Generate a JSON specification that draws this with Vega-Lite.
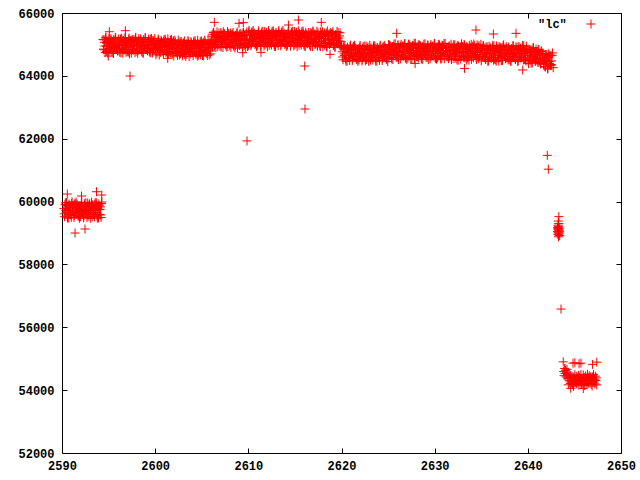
{
"$schema": "https://vega.github.io/schema/vega-lite/v6.json",
"width": 559, "height": 440,
"autosize": {"type": "none"},
"padding": {"left": 62, "top": 13, "right": 19, "bottom": 27},
"background": "white",
"config": {"view": {"stroke": "#000000", "strokeWidth": 1}, "font": "Liberation Mono"},
"layer": [
{
"data": {"values": [
{"t":2590.20,"v":59775},{"t":2590.28,"v":59520},{"t":2590.36,"v":59960},{"t":2590.44,"v":59660},{"t":2590.52,"v":59880},{"t":2590.60,"v":59480},{"t":2590.68,"v":59750},{"t":2590.76,"v":59920},{"t":2590.84,"v":59590},{"t":2590.92,"v":59825},
{"t":2591.00,"v":59500},{"t":2591.08,"v":59990},{"t":2591.16,"v":59700},{"t":2591.24,"v":59850},{"t":2591.32,"v":59555},{"t":2591.40,"v":59945},{"t":2591.48,"v":59630},{"t":2591.56,"v":59735},{"t":2591.64,"v":59900},{"t":2591.72,"v":59530},
{"t":2591.80,"v":59795},{"t":2591.88,"v":59470},{"t":2591.96,"v":59865},{"t":2592.04,"v":59685},{"t":2592.12,"v":59975},{"t":2592.20,"v":59615},{"t":2592.28,"v":59760},{"t":2592.36,"v":59545},{"t":2592.44,"v":59935},{"t":2592.52,"v":59715},
{"t":2592.60,"v":59840},{"t":2592.68,"v":59490},{"t":2592.76,"v":59955},{"t":2592.84,"v":59645},{"t":2592.92,"v":59890},{"t":2593.00,"v":59575},{"t":2593.08,"v":59725},{"t":2593.16,"v":59980},{"t":2593.24,"v":59510},{"t":2593.32,"v":59810},
{"t":2593.40,"v":59780},{"t":2593.48,"v":59515},{"t":2593.56,"v":59965},{"t":2593.64,"v":59655},{"t":2593.72,"v":59885},{"t":2593.80,"v":59475},{"t":2593.88,"v":59755},{"t":2593.96,"v":59925},{"t":2594.04,"v":59585},{"t":2594.12,"v":59830},
{"t":2594.20,"v":59495},{"t":2594.28,"v":59985},
{"t":2590.24,"v":59610},{"t":2590.32,"v":59905},{"t":2590.40,"v":59710},{"t":2590.48,"v":59970},{"t":2590.56,"v":59540},{"t":2590.64,"v":59790},{"t":2590.72,"v":59475},{"t":2590.80,"v":59870},{"t":2590.88,"v":59740},{"t":2590.96,"v":59580},
{"t":2591.04,"v":59940},{"t":2591.12,"v":59665},{"t":2591.20,"v":59830},{"t":2591.28,"v":59495},{"t":2591.36,"v":59915},{"t":2591.44,"v":59690},{"t":2591.52,"v":59985},{"t":2591.60,"v":59625},{"t":2591.68,"v":59765},{"t":2591.76,"v":59560},
{"t":2591.84,"v":59855},{"t":2591.92,"v":59725},{"t":2592.00,"v":59515},{"t":2592.08,"v":59930},{"t":2592.16,"v":59645},{"t":2592.24,"v":59800},{"t":2592.32,"v":59485},{"t":2592.40,"v":59885},{"t":2592.48,"v":59600},{"t":2592.56,"v":59960},
{"t":2592.64,"v":59675},{"t":2592.72,"v":59815},{"t":2592.80,"v":59530},{"t":2592.88,"v":59745},{"t":2592.96,"v":59925},{"t":2593.04,"v":59465},{"t":2593.12,"v":59845},{"t":2593.20,"v":59705},{"t":2593.28,"v":59895},{"t":2593.36,"v":59590},
{"t":2593.44,"v":59605},{"t":2593.52,"v":59910},{"t":2593.60,"v":59715},{"t":2593.68,"v":59965},{"t":2593.76,"v":59545},{"t":2593.84,"v":59785},{"t":2593.92,"v":59480},{"t":2594.00,"v":59865},{"t":2594.08,"v":59745},{"t":2594.16,"v":59575},
{"t":2594.24,"v":59935},
{"t":2591.40,"v":59000},{"t":2592.47,"v":59127},{"t":2590.57,"v":60240},{"t":2593.70,"v":60313},{"t":2594.26,"v":60209},{"t":2592.10,"v":60177},
{"t":2594.40,"v":65160},{"t":2594.48,"v":64830},{"t":2594.56,"v":65065},{"t":2594.64,"v":64740},{"t":2594.72,"v":65230},{"t":2594.80,"v":64940},{"t":2594.88,"v":65090},{"t":2594.96,"v":64795},{"t":2595.04,"v":65185},{"t":2595.12,"v":64870},
{"t":2595.20,"v":64975},{"t":2595.28,"v":65140},{"t":2595.36,"v":64770},{"t":2595.44,"v":65035},{"t":2595.52,"v":64710},{"t":2595.60,"v":65105},{"t":2595.68,"v":64925},{"t":2595.76,"v":65215},{"t":2595.84,"v":64855},{"t":2595.92,"v":65000},
{"t":2596.00,"v":64785},{"t":2596.08,"v":65175},{"t":2596.16,"v":64955},{"t":2596.24,"v":65080},{"t":2596.32,"v":64730},{"t":2596.40,"v":65195},{"t":2596.48,"v":64885},{"t":2596.56,"v":65130},{"t":2596.64,"v":64815},{"t":2596.72,"v":64965},
{"t":2596.80,"v":65220},{"t":2596.88,"v":64750},{"t":2596.96,"v":65050},{"t":2597.04,"v":65015},{"t":2597.12,"v":64760},{"t":2597.20,"v":65200},{"t":2597.28,"v":64900},{"t":2597.36,"v":65120},{"t":2597.44,"v":64720},{"t":2597.52,"v":64990},
{"t":2597.60,"v":65165},{"t":2597.68,"v":64825},{"t":2597.76,"v":65070},{"t":2597.84,"v":64735},{"t":2597.92,"v":65225},{"t":2598.00,"v":64945},{"t":2598.08,"v":65085},{"t":2598.16,"v":64800},{"t":2598.24,"v":65180},{"t":2598.32,"v":64875},
{"t":2598.40,"v":64970},{"t":2598.48,"v":65145},{"t":2598.56,"v":64765},{"t":2598.64,"v":65040},{"t":2598.72,"v":64715},{"t":2598.80,"v":65100},{"t":2598.88,"v":64930},{"t":2598.96,"v":65210},{"t":2599.04,"v":64860},{"t":2599.12,"v":64995},
{"t":2599.20,"v":64790},{"t":2599.28,"v":65170},{"t":2599.36,"v":64960},{"t":2599.44,"v":65075},{"t":2599.52,"v":64735},{"t":2599.60,"v":65190},{"t":2599.68,"v":64890},{"t":2599.76,"v":65125},{"t":2599.84,"v":64820},{"t":2599.92,"v":64960},
{"t":2600.00,"v":64995},{"t":2600.08,"v":64670},{"t":2600.16,"v":65065},{"t":2600.24,"v":64885},{"t":2600.32,"v":65175},{"t":2600.40,"v":64815},{"t":2600.48,"v":64960},{"t":2600.56,"v":64745},{"t":2600.64,"v":65135},{"t":2600.72,"v":64915},
{"t":2600.80,"v":65040},{"t":2600.88,"v":64690},{"t":2600.96,"v":65155},{"t":2601.04,"v":64845},{"t":2601.12,"v":65090},{"t":2601.20,"v":64775},{"t":2601.28,"v":64925},{"t":2601.36,"v":65180},{"t":2601.44,"v":64710},{"t":2601.52,"v":65010},
{"t":2601.60,"v":64975},{"t":2601.68,"v":64720},{"t":2601.76,"v":65160},{"t":2601.84,"v":64860},{"t":2601.92,"v":65080},
{"t":2602.00,"v":64630},{"t":2602.08,"v":64900},{"t":2602.16,"v":65070},{"t":2602.24,"v":64740},{"t":2602.32,"v":64975},{"t":2602.40,"v":64650},{"t":2602.48,"v":65140},{"t":2602.56,"v":64850},{"t":2602.64,"v":65000},{"t":2602.72,"v":64705},
{"t":2602.80,"v":65095},{"t":2602.88,"v":64780},{"t":2602.96,"v":64885},{"t":2603.04,"v":65050},{"t":2603.12,"v":64680},{"t":2603.20,"v":64945},{"t":2603.28,"v":64620},{"t":2603.36,"v":65015},{"t":2603.44,"v":64835},{"t":2603.52,"v":65125},
{"t":2603.60,"v":64765},{"t":2603.68,"v":64910},{"t":2603.76,"v":64695},{"t":2603.84,"v":65085},{"t":2603.92,"v":64865},{"t":2604.00,"v":64990},{"t":2604.08,"v":64640},{"t":2604.16,"v":65105},{"t":2604.24,"v":64795},{"t":2604.32,"v":65040},
{"t":2604.40,"v":64725},{"t":2604.48,"v":64875},{"t":2604.56,"v":65130},{"t":2604.64,"v":64660},{"t":2604.72,"v":64960},{"t":2604.80,"v":64925},{"t":2604.88,"v":64670},{"t":2604.96,"v":65110},{"t":2605.04,"v":64810},{"t":2605.12,"v":65030},
{"t":2605.20,"v":64635},{"t":2605.28,"v":64895},{"t":2605.36,"v":65075},{"t":2605.44,"v":64735},{"t":2605.52,"v":64980},{"t":2605.60,"v":64645},{"t":2605.68,"v":65145},{"t":2605.76,"v":64845},{"t":2605.84,"v":65005},{"t":2605.92,"v":64700},
{"t":2606.00,"v":65080},
{"t":2594.44,"v":64850},{"t":2594.52,"v":65145},{"t":2594.60,"v":64950},{"t":2594.68,"v":65210},{"t":2594.76,"v":64780},{"t":2594.84,"v":65030},{"t":2594.92,"v":64715},{"t":2595.00,"v":65110},{"t":2595.08,"v":64980},{"t":2595.16,"v":64820},
{"t":2595.24,"v":65180},{"t":2595.32,"v":64905},{"t":2595.40,"v":65070},{"t":2595.48,"v":64735},{"t":2595.56,"v":65155},{"t":2595.64,"v":64930},{"t":2595.72,"v":65225},{"t":2595.80,"v":64865},{"t":2595.88,"v":65005},{"t":2595.96,"v":64800},
{"t":2596.04,"v":65095},{"t":2596.12,"v":64965},{"t":2596.20,"v":64755},{"t":2596.28,"v":65170},{"t":2596.36,"v":64885},{"t":2596.44,"v":65040},{"t":2596.52,"v":64725},{"t":2596.60,"v":65125},{"t":2596.68,"v":64840},{"t":2596.76,"v":65200},
{"t":2596.84,"v":64915},{"t":2596.92,"v":65055},{"t":2597.00,"v":64770},{"t":2597.08,"v":64985},{"t":2597.16,"v":65165},{"t":2597.24,"v":64705},{"t":2597.32,"v":65085},{"t":2597.40,"v":64945},{"t":2597.48,"v":65135},{"t":2597.56,"v":64830},
{"t":2597.64,"v":64855},{"t":2597.72,"v":65140},{"t":2597.80,"v":64955},{"t":2597.88,"v":65205},{"t":2597.96,"v":64785},{"t":2598.04,"v":65025},{"t":2598.12,"v":64720},{"t":2598.20,"v":65105},{"t":2598.28,"v":64975},{"t":2598.36,"v":64825},
{"t":2598.44,"v":65175},{"t":2598.52,"v":64910},{"t":2598.60,"v":65065},{"t":2598.68,"v":64740},{"t":2598.76,"v":65150},{"t":2598.84,"v":64935},{"t":2598.92,"v":65220},{"t":2599.00,"v":64870},{"t":2599.08,"v":65000},{"t":2599.16,"v":64805},
{"t":2599.24,"v":65090},{"t":2599.32,"v":64960},{"t":2599.40,"v":64760},{"t":2599.48,"v":65165},{"t":2599.56,"v":64890},{"t":2599.64,"v":65035},{"t":2599.72,"v":64730},{"t":2599.80,"v":65120},{"t":2599.88,"v":64845},{"t":2599.96,"v":65195},
{"t":2600.04,"v":64875},{"t":2600.12,"v":65015},{"t":2600.20,"v":64730},{"t":2600.28,"v":64945},{"t":2600.36,"v":65125},{"t":2600.44,"v":64665},{"t":2600.52,"v":65045},{"t":2600.60,"v":64905},{"t":2600.68,"v":65095},{"t":2600.76,"v":64790},
{"t":2600.84,"v":64810},{"t":2600.92,"v":65105},{"t":2601.00,"v":64910},{"t":2601.08,"v":65170},{"t":2601.16,"v":64740},{"t":2601.24,"v":64990},{"t":2601.32,"v":64675},{"t":2601.40,"v":65070},{"t":2601.48,"v":64940},{"t":2601.56,"v":64780},
{"t":2601.64,"v":65140},{"t":2601.72,"v":64865},{"t":2601.80,"v":65030},{"t":2601.88,"v":64695},{"t":2601.96,"v":65115},
{"t":2602.04,"v":64840},{"t":2602.12,"v":65135},{"t":2602.20,"v":64775},{"t":2602.28,"v":64915},{"t":2602.36,"v":64710},{"t":2602.44,"v":65005},{"t":2602.52,"v":64875},{"t":2602.60,"v":64665},{"t":2602.68,"v":65080},{"t":2602.76,"v":64795},
{"t":2602.84,"v":64950},{"t":2602.92,"v":64635},{"t":2603.00,"v":65035},{"t":2603.08,"v":64750},{"t":2603.16,"v":65110},{"t":2603.24,"v":64825},{"t":2603.32,"v":64965},{"t":2603.40,"v":64680},{"t":2603.48,"v":64895},{"t":2603.56,"v":65075},
{"t":2603.64,"v":64615},{"t":2603.72,"v":64995},{"t":2603.80,"v":64855},{"t":2603.88,"v":65045},{"t":2603.96,"v":64740},{"t":2604.04,"v":64760},{"t":2604.12,"v":65055},{"t":2604.20,"v":64860},{"t":2604.28,"v":65120},{"t":2604.36,"v":64690},
{"t":2604.44,"v":64940},{"t":2604.52,"v":64625},{"t":2604.60,"v":65020},{"t":2604.68,"v":64890},{"t":2604.76,"v":64730},{"t":2604.84,"v":65090},{"t":2604.92,"v":64815},{"t":2605.00,"v":64980},{"t":2605.08,"v":64645},{"t":2605.16,"v":65065},
{"t":2605.24,"v":64840},{"t":2605.32,"v":65135},{"t":2605.40,"v":64775},{"t":2605.48,"v":64915},{"t":2605.56,"v":64710},{"t":2605.64,"v":65005},{"t":2605.72,"v":64875},{"t":2605.80,"v":64665},{"t":2605.88,"v":65080},{"t":2605.96,"v":64795},
{"t":2606.08,"v":65260},{"t":2606.16,"v":64910},{"t":2606.24,"v":65375},{"t":2606.32,"v":65065},{"t":2606.40,"v":65310},{"t":2606.48,"v":64995},{"t":2606.56,"v":65145},{"t":2606.64,"v":65400},{"t":2606.72,"v":64930},{"t":2606.80,"v":65230},
{"t":2606.88,"v":65195},{"t":2606.96,"v":64940},{"t":2607.04,"v":65380},{"t":2607.12,"v":65080},{"t":2607.20,"v":65300},{"t":2607.28,"v":64900},{"t":2607.36,"v":65170},{"t":2607.44,"v":65340},{"t":2607.52,"v":65010},{"t":2607.60,"v":65245},
{"t":2607.68,"v":64920},{"t":2607.76,"v":65410},{"t":2607.84,"v":65120},{"t":2607.92,"v":65270},{"t":2608.00,"v":64975},{"t":2608.08,"v":65365},{"t":2608.16,"v":65050},{"t":2608.24,"v":65155},{"t":2608.32,"v":65320},{"t":2608.40,"v":64950},
{"t":2608.48,"v":65215},{"t":2608.56,"v":64890},{"t":2608.64,"v":65285},{"t":2608.72,"v":65105},{"t":2608.80,"v":65395},{"t":2608.88,"v":65035},{"t":2608.96,"v":65180},{"t":2609.04,"v":64965},{"t":2609.12,"v":65355},{"t":2609.20,"v":65135},
{"t":2609.28,"v":65255},{"t":2609.36,"v":64915},{"t":2609.44,"v":65370},{"t":2609.52,"v":65070},{"t":2609.60,"v":65305},{"t":2609.68,"v":65000},{"t":2609.76,"v":65140},{"t":2609.84,"v":65395},{"t":2609.92,"v":64935},
{"t":2610.00,"v":64960},{"t":2610.08,"v":65450},{"t":2610.16,"v":65160},{"t":2610.24,"v":65310},{"t":2610.32,"v":65015},{"t":2610.40,"v":65405},{"t":2610.48,"v":65090},{"t":2610.56,"v":65195},{"t":2610.64,"v":65360},{"t":2610.72,"v":64990},
{"t":2610.80,"v":65255},{"t":2610.88,"v":64930},{"t":2610.96,"v":65325},{"t":2611.04,"v":65145},{"t":2611.12,"v":65435},{"t":2611.20,"v":65075},{"t":2611.28,"v":65220},{"t":2611.36,"v":65005},{"t":2611.44,"v":65395},{"t":2611.52,"v":65175},
{"t":2611.60,"v":65300},{"t":2611.68,"v":64950},{"t":2611.76,"v":65415},{"t":2611.84,"v":65105},{"t":2611.92,"v":65350},{"t":2612.00,"v":65035},{"t":2612.08,"v":65185},{"t":2612.16,"v":65440},{"t":2612.24,"v":64970},{"t":2612.32,"v":65270},
{"t":2612.40,"v":65235},{"t":2612.48,"v":64980},{"t":2612.56,"v":65420},{"t":2612.64,"v":65120},{"t":2612.72,"v":65340},{"t":2612.80,"v":64940},{"t":2612.88,"v":65210},{"t":2612.96,"v":65380},{"t":2613.04,"v":65050},{"t":2613.12,"v":65285},
{"t":2613.20,"v":64965},{"t":2613.28,"v":65445},{"t":2613.36,"v":65155},{"t":2613.44,"v":65315},{"t":2613.52,"v":65010},{"t":2613.60,"v":65400},{"t":2613.68,"v":65095},{"t":2613.76,"v":65200},{"t":2613.84,"v":65355},{"t":2613.92,"v":64995},
{"t":2614.00,"v":65250},{"t":2614.08,"v":64935},{"t":2614.16,"v":65330},{"t":2614.24,"v":65140},{"t":2614.32,"v":65430},{"t":2614.40,"v":65080},{"t":2614.48,"v":65215},{"t":2614.56,"v":65010},{"t":2614.64,"v":65390},{"t":2614.72,"v":65180},
{"t":2614.80,"v":65295},{"t":2614.88,"v":64955},{"t":2614.96,"v":65410},{"t":2615.04,"v":65110},{"t":2615.12,"v":65345},{"t":2615.20,"v":65040},{"t":2615.28,"v":65180},{"t":2615.36,"v":65435},{"t":2615.44,"v":64975},{"t":2615.52,"v":65265},
{"t":2615.60,"v":65240},{"t":2615.68,"v":64975},{"t":2615.76,"v":65415},{"t":2615.84,"v":65125},{"t":2615.92,"v":65335},{"t":2616.00,"v":64945},{"t":2616.08,"v":65205},{"t":2616.16,"v":65385},{"t":2616.24,"v":65045},{"t":2616.32,"v":65290},
{"t":2616.40,"v":65055},{"t":2616.48,"v":65200},{"t":2616.56,"v":64985},{"t":2616.64,"v":65375},{"t":2616.72,"v":65155},{"t":2616.80,"v":65280},{"t":2616.88,"v":64930},{"t":2616.96,"v":65395},{"t":2617.04,"v":65085},{"t":2617.12,"v":65330},
{"t":2617.20,"v":65015},{"t":2617.28,"v":65165},{"t":2617.36,"v":65420},{"t":2617.44,"v":64950},{"t":2617.52,"v":65250},{"t":2617.60,"v":65215},{"t":2617.68,"v":64960},{"t":2617.76,"v":65400},{"t":2617.84,"v":65100},{"t":2617.92,"v":65320},
{"t":2618.00,"v":64920},{"t":2618.08,"v":65190},{"t":2618.16,"v":65360},{"t":2618.24,"v":65030},{"t":2618.32,"v":65265},{"t":2618.40,"v":64940},{"t":2618.48,"v":65430},{"t":2618.56,"v":65140},{"t":2618.64,"v":65290},{"t":2618.72,"v":64995},
{"t":2618.80,"v":65385},{"t":2618.88,"v":65070},{"t":2618.96,"v":65175},{"t":2619.04,"v":65340},{"t":2619.12,"v":64970},{"t":2619.20,"v":65235},{"t":2619.28,"v":64910},{"t":2619.36,"v":65305},{"t":2619.44,"v":65125},{"t":2619.52,"v":65415},
{"t":2619.60,"v":65050},{"t":2619.68,"v":65205},{"t":2619.76,"v":64980},{"t":2619.84,"v":65370},{"t":2619.92,"v":65100},{"t":2620.00,"v":64950},
{"t":2606.04,"v":65030},{"t":2606.12,"v":65325},{"t":2606.20,"v":65130},{"t":2606.28,"v":65390},{"t":2606.36,"v":64960},{"t":2606.44,"v":65210},{"t":2606.52,"v":64895},{"t":2606.60,"v":65290},{"t":2606.68,"v":65160},{"t":2606.76,"v":65000},
{"t":2606.84,"v":65360},{"t":2606.92,"v":65085},{"t":2607.00,"v":65250},{"t":2607.08,"v":64915},{"t":2607.16,"v":65335},{"t":2607.24,"v":65110},{"t":2607.32,"v":65405},{"t":2607.40,"v":65045},{"t":2607.48,"v":65185},{"t":2607.56,"v":64980},
{"t":2607.64,"v":65275},{"t":2607.72,"v":65145},{"t":2607.80,"v":64935},{"t":2607.88,"v":65350},{"t":2607.96,"v":65065},{"t":2608.04,"v":65220},{"t":2608.12,"v":64905},{"t":2608.20,"v":65305},{"t":2608.28,"v":65020},{"t":2608.36,"v":65380},
{"t":2608.44,"v":65095},{"t":2608.52,"v":65235},{"t":2608.60,"v":64950},{"t":2608.68,"v":65165},{"t":2608.76,"v":65345},{"t":2608.84,"v":64885},{"t":2608.92,"v":65265},{"t":2609.00,"v":65125},{"t":2609.08,"v":65315},{"t":2609.16,"v":65010},
{"t":2609.24,"v":65035},{"t":2609.32,"v":65320},{"t":2609.40,"v":65135},{"t":2609.48,"v":65385},{"t":2609.56,"v":64965},{"t":2609.64,"v":65205},{"t":2609.72,"v":64900},{"t":2609.80,"v":65285},{"t":2609.88,"v":65155},
{"t":2609.96,"v":65040},{"t":2610.04,"v":65400},{"t":2610.12,"v":65125},{"t":2610.20,"v":65290},{"t":2610.28,"v":64955},{"t":2610.36,"v":65375},{"t":2610.44,"v":65150},{"t":2610.52,"v":65445},{"t":2610.60,"v":65085},{"t":2610.68,"v":65225},
{"t":2610.76,"v":65020},{"t":2610.84,"v":65315},{"t":2610.92,"v":65185},{"t":2611.00,"v":64975},{"t":2611.08,"v":65390},{"t":2611.16,"v":65105},{"t":2611.24,"v":65260},{"t":2611.32,"v":64945},{"t":2611.40,"v":65345},{"t":2611.48,"v":65060},
{"t":2611.56,"v":65420},{"t":2611.64,"v":65135},{"t":2611.72,"v":65275},{"t":2611.80,"v":64990},{"t":2611.88,"v":65205},{"t":2611.96,"v":65385},{"t":2612.04,"v":64925},{"t":2612.12,"v":65305},{"t":2612.20,"v":65165},{"t":2612.28,"v":65355},
{"t":2612.36,"v":65050},{"t":2612.44,"v":65070},{"t":2612.52,"v":65365},{"t":2612.60,"v":65170},{"t":2612.68,"v":65430},{"t":2612.76,"v":65000},{"t":2612.84,"v":65250},{"t":2612.92,"v":64935},{"t":2613.00,"v":65330},{"t":2613.08,"v":65200},
{"t":2613.16,"v":65040},{"t":2613.24,"v":65400},{"t":2613.32,"v":65125},{"t":2613.40,"v":65290},{"t":2613.48,"v":64955},{"t":2613.56,"v":65375},{"t":2613.64,"v":65150},{"t":2613.72,"v":65445},{"t":2613.80,"v":65085},{"t":2613.88,"v":65225},
{"t":2613.96,"v":65020},{"t":2614.04,"v":65315},{"t":2614.12,"v":65185},{"t":2614.20,"v":64975},{"t":2614.28,"v":65390},{"t":2614.36,"v":65105},{"t":2614.44,"v":65260},{"t":2614.52,"v":64945},{"t":2614.60,"v":65345},{"t":2614.68,"v":65060},
{"t":2614.76,"v":65420},{"t":2614.84,"v":65135},{"t":2614.92,"v":65275},{"t":2615.00,"v":64990},{"t":2615.08,"v":65205},{"t":2615.16,"v":65385},{"t":2615.24,"v":64925},{"t":2615.32,"v":65305},{"t":2615.40,"v":65165},{"t":2615.48,"v":65355},
{"t":2615.56,"v":65050},{"t":2615.64,"v":65075},{"t":2615.72,"v":65360},{"t":2615.80,"v":65175},{"t":2615.88,"v":65425},{"t":2615.96,"v":65005},{"t":2616.04,"v":65245},{"t":2616.12,"v":64940},{"t":2616.20,"v":65325},{"t":2616.28,"v":65205},
{"t":2616.36,"v":65020},{"t":2616.44,"v":65380},{"t":2616.52,"v":65105},{"t":2616.60,"v":65270},{"t":2616.68,"v":64935},{"t":2616.76,"v":65355},{"t":2616.84,"v":65130},{"t":2616.92,"v":65425},{"t":2617.00,"v":65065},{"t":2617.08,"v":65205},
{"t":2617.16,"v":65000},{"t":2617.24,"v":65295},{"t":2617.32,"v":65165},{"t":2617.40,"v":64955},{"t":2617.48,"v":65370},{"t":2617.56,"v":65085},{"t":2617.64,"v":65240},{"t":2617.72,"v":64925},{"t":2617.80,"v":65325},{"t":2617.88,"v":65040},
{"t":2617.96,"v":65400},{"t":2618.04,"v":65115},{"t":2618.12,"v":65255},{"t":2618.20,"v":64970},{"t":2618.28,"v":65185},{"t":2618.36,"v":65365},{"t":2618.44,"v":64905},{"t":2618.52,"v":65285},{"t":2618.60,"v":65145},{"t":2618.68,"v":65335},
{"t":2618.76,"v":65030},{"t":2618.84,"v":65050},{"t":2618.92,"v":65345},{"t":2619.00,"v":65150},{"t":2619.08,"v":65410},{"t":2619.16,"v":64980},{"t":2619.24,"v":65230},{"t":2619.32,"v":64915},{"t":2619.40,"v":65310},{"t":2619.48,"v":65180},
{"t":2619.56,"v":65020},{"t":2619.64,"v":65380},{"t":2619.72,"v":65105},{"t":2619.80,"v":65270},{"t":2619.88,"v":64935},
{"t":2620.08,"v":64765},{"t":2620.16,"v":64510},{"t":2620.24,"v":64950},{"t":2620.32,"v":64650},{"t":2620.40,"v":64870},{"t":2620.48,"v":64470},{"t":2620.56,"v":64740},{"t":2620.64,"v":64910},{"t":2620.72,"v":64580},{"t":2620.80,"v":64815},
{"t":2620.88,"v":64490},{"t":2620.96,"v":64980},{"t":2621.04,"v":64690},{"t":2621.12,"v":64840},{"t":2621.20,"v":64545},{"t":2621.28,"v":64935},{"t":2621.36,"v":64620},{"t":2621.44,"v":64725},{"t":2621.52,"v":64890},{"t":2621.60,"v":64520},
{"t":2621.68,"v":64785},{"t":2621.76,"v":64460},{"t":2621.84,"v":64855},{"t":2621.92,"v":64675},{"t":2622.00,"v":64965},{"t":2622.08,"v":64605},{"t":2622.16,"v":64750},{"t":2622.24,"v":64535},{"t":2622.32,"v":64925},{"t":2622.40,"v":64705},
{"t":2622.48,"v":64830},{"t":2622.56,"v":64480},{"t":2622.64,"v":64945},{"t":2622.72,"v":64635},{"t":2622.80,"v":64880},{"t":2622.88,"v":64565},{"t":2622.96,"v":64715},{"t":2623.04,"v":64970},{"t":2623.12,"v":64500},{"t":2623.20,"v":64800},
{"t":2623.28,"v":64770},{"t":2623.36,"v":64505},{"t":2623.44,"v":64955},{"t":2623.52,"v":64645},{"t":2623.60,"v":64875},{"t":2623.68,"v":64465},{"t":2623.76,"v":64745},{"t":2623.84,"v":64905},{"t":2623.92,"v":64585},{"t":2624.00,"v":64810},
{"t":2624.08,"v":64495},{"t":2624.16,"v":64975},{"t":2624.24,"v":64695},{"t":2624.32,"v":64835},{"t":2624.40,"v":64550},{"t":2624.48,"v":64930},{"t":2624.56,"v":64625},{"t":2624.64,"v":64720},{"t":2624.72,"v":64895},{"t":2624.80,"v":64515},
{"t":2624.88,"v":64790},{"t":2624.96,"v":64455},
{"t":2625.04,"v":64995},{"t":2625.12,"v":64680},{"t":2625.20,"v":64785},{"t":2625.28,"v":64950},{"t":2625.36,"v":64580},{"t":2625.44,"v":64845},{"t":2625.52,"v":64520},{"t":2625.60,"v":64915},{"t":2625.68,"v":64735},{"t":2625.76,"v":65025},
{"t":2625.84,"v":64665},{"t":2625.92,"v":64810},{"t":2626.00,"v":64595},{"t":2626.08,"v":64985},{"t":2626.16,"v":64765},{"t":2626.24,"v":64890},{"t":2626.32,"v":64540},{"t":2626.40,"v":65005},{"t":2626.48,"v":64695},{"t":2626.56,"v":64940},
{"t":2626.64,"v":64625},{"t":2626.72,"v":64775},{"t":2626.80,"v":65030},{"t":2626.88,"v":64560},{"t":2626.96,"v":64860},{"t":2627.04,"v":64825},{"t":2627.12,"v":64570},{"t":2627.20,"v":65010},{"t":2627.28,"v":64710},{"t":2627.36,"v":64930},
{"t":2627.44,"v":64530},{"t":2627.52,"v":64800},{"t":2627.60,"v":64970},{"t":2627.68,"v":64640},{"t":2627.76,"v":64875},{"t":2627.84,"v":64550},{"t":2627.92,"v":65040},{"t":2628.00,"v":64750},{"t":2628.08,"v":64900},{"t":2628.16,"v":64605},
{"t":2628.24,"v":64990},{"t":2628.32,"v":64685},{"t":2628.40,"v":64780},{"t":2628.48,"v":64955},{"t":2628.56,"v":64575},{"t":2628.64,"v":64850},{"t":2628.72,"v":64525},{"t":2628.80,"v":64910},{"t":2628.88,"v":64740},{"t":2628.96,"v":65020},
{"t":2629.04,"v":64670},{"t":2629.12,"v":64805},{"t":2629.20,"v":64600},{"t":2629.28,"v":64980},{"t":2629.36,"v":64770},{"t":2629.44,"v":64885},{"t":2629.52,"v":64545},{"t":2629.60,"v":65000},{"t":2629.68,"v":64700},{"t":2629.76,"v":64935},
{"t":2629.84,"v":64630},{"t":2629.92,"v":64770},{"t":2630.00,"v":65035},{"t":2630.08,"v":64555},{"t":2630.16,"v":64865},{"t":2630.24,"v":64820},{"t":2630.32,"v":64575},{"t":2630.40,"v":65005},{"t":2630.48,"v":64715},{"t":2630.56,"v":64925},
{"t":2630.64,"v":64535},{"t":2630.72,"v":64795},{"t":2630.80,"v":64975},{"t":2630.88,"v":64635},{"t":2630.96,"v":64880},{"t":2631.04,"v":64545},{"t":2631.12,"v":65035},{"t":2631.20,"v":64755},{"t":2631.28,"v":64895},{"t":2631.36,"v":64610},
{"t":2631.44,"v":64675},{"t":2631.52,"v":64920},{"t":2631.60,"v":64605},{"t":2631.68,"v":64755},{"t":2631.76,"v":65010},{"t":2631.84,"v":64540},{"t":2631.92,"v":64840},{"t":2632.00,"v":64805},{"t":2632.08,"v":64550},{"t":2632.16,"v":64990},
{"t":2632.24,"v":64690},{"t":2632.32,"v":64910},{"t":2632.40,"v":64510},{"t":2632.48,"v":64780},{"t":2632.56,"v":64950},{"t":2632.64,"v":64620},{"t":2632.72,"v":64855},{"t":2632.80,"v":64530},{"t":2632.88,"v":65020},{"t":2632.96,"v":64730},
{"t":2633.04,"v":64880},{"t":2633.12,"v":64585},{"t":2633.20,"v":64975},{"t":2633.28,"v":64660},{"t":2633.36,"v":64765},{"t":2633.44,"v":64930},{"t":2633.52,"v":64560},{"t":2633.60,"v":64825},{"t":2633.68,"v":64500},{"t":2633.76,"v":64895},
{"t":2633.84,"v":64715},{"t":2633.92,"v":65005},{"t":2634.00,"v":64645},{"t":2634.08,"v":64790},{"t":2634.16,"v":64575},{"t":2634.24,"v":64965},{"t":2634.32,"v":64745},{"t":2634.40,"v":64870},{"t":2634.48,"v":64520},{"t":2634.56,"v":64985},
{"t":2634.64,"v":64680},{"t":2634.72,"v":64915},{"t":2634.80,"v":64610},{"t":2634.88,"v":64750},{"t":2634.96,"v":65005},
{"t":2635.04,"v":64855},{"t":2635.12,"v":64675},{"t":2635.20,"v":64965},{"t":2635.28,"v":64605},{"t":2635.36,"v":64750},{"t":2635.44,"v":64535},{"t":2635.52,"v":64925},{"t":2635.60,"v":64705},{"t":2635.68,"v":64830},{"t":2635.76,"v":64480},
{"t":2635.84,"v":64945},{"t":2635.92,"v":64635},{"t":2636.00,"v":64880},{"t":2636.08,"v":64565},{"t":2636.16,"v":64715},{"t":2636.24,"v":64970},{"t":2636.32,"v":64500},{"t":2636.40,"v":64800},{"t":2636.48,"v":64765},{"t":2636.56,"v":64510},
{"t":2636.64,"v":64950},{"t":2636.72,"v":64650},{"t":2636.80,"v":64870},{"t":2636.88,"v":64470},{"t":2636.96,"v":64740},{"t":2637.04,"v":64910},{"t":2637.12,"v":64580},{"t":2637.20,"v":64815},{"t":2637.28,"v":64490},{"t":2637.36,"v":64980},
{"t":2637.44,"v":64690},{"t":2637.52,"v":64840},{"t":2637.60,"v":64545},{"t":2637.68,"v":64935},{"t":2637.76,"v":64620},{"t":2637.84,"v":64725},{"t":2637.92,"v":64890},{"t":2638.00,"v":64520},{"t":2638.08,"v":64785},{"t":2638.16,"v":64460},
{"t":2638.24,"v":64850},{"t":2638.32,"v":64680},{"t":2638.40,"v":64960},{"t":2638.48,"v":64610},{"t":2638.56,"v":64745},{"t":2638.64,"v":64540},{"t":2638.72,"v":64920},{"t":2638.80,"v":64710},{"t":2638.88,"v":64825},{"t":2638.96,"v":64485},
{"t":2639.04,"v":64940},{"t":2639.12,"v":64640},{"t":2639.20,"v":64875},{"t":2639.28,"v":64570},{"t":2639.36,"v":64710},{"t":2639.44,"v":64965},{"t":2639.52,"v":64505},{"t":2639.60,"v":64795},{"t":2639.68,"v":64760},{"t":2639.76,"v":64515},
{"t":2639.84,"v":64945},{"t":2639.92,"v":64655},
{"t":2640.00,"v":64790},{"t":2640.08,"v":64390},{"t":2640.16,"v":64660},{"t":2640.24,"v":64830},{"t":2640.32,"v":64500},{"t":2640.40,"v":64735},{"t":2640.48,"v":64410},{"t":2640.56,"v":64900},{"t":2640.64,"v":64610},{"t":2640.72,"v":64760},
{"t":2640.80,"v":64465},{"t":2640.88,"v":64855},{"t":2640.96,"v":64540},{"t":2641.04,"v":64645},{"t":2641.12,"v":64810},{"t":2641.20,"v":64440},{"t":2641.28,"v":64705},{"t":2641.36,"v":64380},{"t":2641.44,"v":64775},{"t":2641.52,"v":64595},
{"t":2641.60,"v":64725},{"t":2641.68,"v":64365},{"t":2641.76,"v":64510},{"t":2641.84,"v":64295},{"t":2641.92,"v":64685},{"t":2642.00,"v":64465},{"t":2642.08,"v":64590},{"t":2642.16,"v":64240},{"t":2642.24,"v":64705},{"t":2642.32,"v":64395},
{"t":2642.40,"v":64640},{"t":2642.48,"v":64325},{"t":2642.56,"v":64475},{"t":2642.64,"v":64730},{"t":2642.72,"v":64260},
{"t":2620.12,"v":64600},{"t":2620.20,"v":64895},{"t":2620.28,"v":64700},{"t":2620.36,"v":64960},{"t":2620.44,"v":64530},{"t":2620.52,"v":64780},{"t":2620.60,"v":64465},{"t":2620.68,"v":64860},{"t":2620.76,"v":64730},{"t":2620.84,"v":64570},
{"t":2620.92,"v":64930},{"t":2621.00,"v":64655},{"t":2621.08,"v":64820},{"t":2621.16,"v":64485},{"t":2621.24,"v":64905},{"t":2621.32,"v":64680},{"t":2621.40,"v":64975},{"t":2621.48,"v":64615},{"t":2621.56,"v":64755},{"t":2621.64,"v":64550},
{"t":2621.72,"v":64845},{"t":2621.80,"v":64715},{"t":2621.88,"v":64505},{"t":2621.96,"v":64920},{"t":2622.04,"v":64635},{"t":2622.12,"v":64790},{"t":2622.20,"v":64475},{"t":2622.28,"v":64875},{"t":2622.36,"v":64590},{"t":2622.44,"v":64950},
{"t":2622.52,"v":64665},{"t":2622.60,"v":64805},{"t":2622.68,"v":64520},{"t":2622.76,"v":64735},{"t":2622.84,"v":64915},{"t":2622.92,"v":64455},{"t":2623.00,"v":64835},{"t":2623.08,"v":64695},{"t":2623.16,"v":64885},{"t":2623.24,"v":64580},
{"t":2623.32,"v":64605},{"t":2623.40,"v":64890},{"t":2623.48,"v":64705},{"t":2623.56,"v":64955},{"t":2623.64,"v":64535},{"t":2623.72,"v":64775},{"t":2623.80,"v":64470},{"t":2623.88,"v":64855},{"t":2623.96,"v":64735},{"t":2624.04,"v":64565},
{"t":2624.12,"v":64925},{"t":2624.20,"v":64660},{"t":2624.28,"v":64815},{"t":2624.36,"v":64490},{"t":2624.44,"v":64900},{"t":2624.52,"v":64685},{"t":2624.60,"v":64970},{"t":2624.68,"v":64620},{"t":2624.76,"v":64750},{"t":2624.84,"v":64555},
{"t":2624.92,"v":64840},{"t":2625.00,"v":64775},{"t":2625.08,"v":64565},{"t":2625.16,"v":64980},{"t":2625.24,"v":64695},{"t":2625.32,"v":64850},{"t":2625.40,"v":64535},{"t":2625.48,"v":64935},{"t":2625.56,"v":64650},{"t":2625.64,"v":65010},
{"t":2625.72,"v":64725},{"t":2625.80,"v":64865},{"t":2625.88,"v":64580},{"t":2625.96,"v":64795},{"t":2626.04,"v":64975},{"t":2626.12,"v":64515},{"t":2626.20,"v":64895},{"t":2626.28,"v":64755},{"t":2626.36,"v":64945},{"t":2626.44,"v":64640},
{"t":2626.52,"v":64660},{"t":2626.60,"v":64955},{"t":2626.68,"v":64760},{"t":2626.76,"v":65020},{"t":2626.84,"v":64590},{"t":2626.92,"v":64840},{"t":2627.00,"v":64525},{"t":2627.08,"v":64920},{"t":2627.16,"v":64790},{"t":2627.24,"v":64630},
{"t":2627.32,"v":64990},{"t":2627.40,"v":64715},{"t":2627.48,"v":64880},{"t":2627.56,"v":64545},{"t":2627.64,"v":64965},{"t":2627.72,"v":64740},{"t":2627.80,"v":65035},{"t":2627.88,"v":64675},{"t":2627.96,"v":64815},{"t":2628.04,"v":64610},
{"t":2628.12,"v":64905},{"t":2628.20,"v":64775},{"t":2628.28,"v":64565},{"t":2628.36,"v":64980},{"t":2628.44,"v":64695},{"t":2628.52,"v":64850},{"t":2628.60,"v":64535},{"t":2628.68,"v":64935},{"t":2628.76,"v":64650},{"t":2628.84,"v":65010},
{"t":2628.92,"v":64725},{"t":2629.00,"v":64865},{"t":2629.08,"v":64580},{"t":2629.16,"v":64795},{"t":2629.24,"v":64975},{"t":2629.32,"v":64515},{"t":2629.40,"v":64895},{"t":2629.48,"v":64755},{"t":2629.56,"v":64945},{"t":2629.64,"v":64640},
{"t":2629.72,"v":64665},{"t":2629.80,"v":64950},{"t":2629.88,"v":64765},{"t":2629.96,"v":65015},{"t":2630.04,"v":64595},{"t":2630.12,"v":64835},{"t":2630.20,"v":64530},{"t":2630.28,"v":64915},{"t":2630.36,"v":64795},{"t":2630.44,"v":64635},
{"t":2630.52,"v":64985},{"t":2630.60,"v":64720},{"t":2630.68,"v":64875},{"t":2630.76,"v":64550},{"t":2630.84,"v":64960},{"t":2630.92,"v":64745},{"t":2631.00,"v":65030},{"t":2631.08,"v":64680},{"t":2631.16,"v":64810},{"t":2631.24,"v":64615},
{"t":2631.32,"v":64900},{"t":2631.40,"v":64755},{"t":2631.48,"v":64545},{"t":2631.56,"v":64960},{"t":2631.64,"v":64675},{"t":2631.72,"v":64830},{"t":2631.80,"v":64515},{"t":2631.88,"v":64915},{"t":2631.96,"v":64630},{"t":2632.04,"v":64990},
{"t":2632.12,"v":64705},{"t":2632.20,"v":64845},{"t":2632.28,"v":64560},{"t":2632.36,"v":64775},{"t":2632.44,"v":64955},{"t":2632.52,"v":64495},{"t":2632.60,"v":64875},{"t":2632.68,"v":64735},{"t":2632.76,"v":64925},{"t":2632.84,"v":64620},
{"t":2632.92,"v":64640},{"t":2633.00,"v":64935},{"t":2633.08,"v":64740},{"t":2633.16,"v":65000},{"t":2633.24,"v":64570},{"t":2633.32,"v":64820},{"t":2633.40,"v":64505},{"t":2633.48,"v":64900},{"t":2633.56,"v":64770},{"t":2633.64,"v":64610},
{"t":2633.72,"v":64970},{"t":2633.80,"v":64695},{"t":2633.88,"v":64860},{"t":2633.96,"v":64525},{"t":2634.04,"v":64945},{"t":2634.12,"v":64720},{"t":2634.20,"v":65015},{"t":2634.28,"v":64655},{"t":2634.36,"v":64795},{"t":2634.44,"v":64590},
{"t":2634.52,"v":64885},{"t":2634.60,"v":64755},{"t":2634.68,"v":64545},{"t":2634.76,"v":64960},{"t":2634.84,"v":64675},{"t":2634.92,"v":64830},{"t":2635.00,"v":64475},{"t":2635.08,"v":64875},{"t":2635.16,"v":64590},{"t":2635.24,"v":64950},
{"t":2635.32,"v":64665},{"t":2635.40,"v":64805},{"t":2635.48,"v":64520},{"t":2635.56,"v":64735},{"t":2635.64,"v":64915},{"t":2635.72,"v":64455},{"t":2635.80,"v":64835},{"t":2635.88,"v":64695},{"t":2635.96,"v":64885},{"t":2636.04,"v":64580},
{"t":2636.12,"v":64600},{"t":2636.20,"v":64895},{"t":2636.28,"v":64700},{"t":2636.36,"v":64960},{"t":2636.44,"v":64530},{"t":2636.52,"v":64780},{"t":2636.60,"v":64465},{"t":2636.68,"v":64860},{"t":2636.76,"v":64730},{"t":2636.84,"v":64570},
{"t":2636.92,"v":64930},{"t":2637.00,"v":64655},{"t":2637.08,"v":64820},{"t":2637.16,"v":64485},{"t":2637.24,"v":64905},{"t":2637.32,"v":64680},{"t":2637.40,"v":64975},{"t":2637.48,"v":64615},{"t":2637.56,"v":64755},{"t":2637.64,"v":64550},
{"t":2637.72,"v":64845},{"t":2637.80,"v":64715},{"t":2637.88,"v":64505},{"t":2637.96,"v":64920},{"t":2638.04,"v":64635},{"t":2638.12,"v":64790},{"t":2638.20,"v":64475},{"t":2638.28,"v":64875},{"t":2638.36,"v":64590},{"t":2638.44,"v":64950},
{"t":2638.52,"v":64665},{"t":2638.60,"v":64805},{"t":2638.68,"v":64520},{"t":2638.76,"v":64735},{"t":2638.84,"v":64915},{"t":2638.92,"v":64455},{"t":2639.00,"v":64835},{"t":2639.08,"v":64695},{"t":2639.16,"v":64885},{"t":2639.24,"v":64580},
{"t":2639.32,"v":64605},{"t":2639.40,"v":64890},{"t":2639.48,"v":64705},{"t":2639.56,"v":64955},{"t":2639.64,"v":64535},{"t":2639.72,"v":64775},{"t":2639.80,"v":64470},{"t":2639.88,"v":64855},{"t":2639.96,"v":64730},
{"t":2640.04,"v":64490},{"t":2640.12,"v":64850},{"t":2640.20,"v":64575},{"t":2640.28,"v":64740},{"t":2640.36,"v":64405},{"t":2640.44,"v":64825},{"t":2640.52,"v":64600},{"t":2640.60,"v":64895},{"t":2640.68,"v":64535},{"t":2640.76,"v":64675},
{"t":2640.84,"v":64470},{"t":2640.92,"v":64765},{"t":2641.00,"v":64635},{"t":2641.08,"v":64425},{"t":2641.16,"v":64840},{"t":2641.24,"v":64555},{"t":2641.32,"v":64710},{"t":2641.40,"v":64395},{"t":2641.48,"v":64795},{"t":2641.56,"v":64510},
{"t":2641.64,"v":64710},{"t":2641.72,"v":64425},{"t":2641.80,"v":64565},{"t":2641.88,"v":64280},{"t":2641.96,"v":64495},{"t":2642.04,"v":64675},{"t":2642.12,"v":64215},{"t":2642.20,"v":64595},{"t":2642.28,"v":64455},{"t":2642.36,"v":64645},
{"t":2642.44,"v":64340},{"t":2642.52,"v":64360},{"t":2642.60,"v":64655},
{"t":2597.30,"v":63995},{"t":2609.86,"v":61930},{"t":2616.08,"v":62945},{"t":2616.05,"v":64313},{"t":2606.35,"v":65703},{"t":2595.08,"v":65404},{"t":2596.80,"v":65437},{"t":2609.00,"v":65672},{"t":2594.97,"v":64631},{"t":2601.35,"v":64558},
{"t":2609.40,"v":64737},{"t":2615.37,"v":65777},{"t":2617.83,"v":65703},{"t":2614.30,"v":65618},{"t":2609.46,"v":65693},{"t":2618.77,"v":64685},{"t":2611.36,"v":64748},{"t":2625.92,"v":65353},{"t":2634.43,"v":65459},{"t":2638.73,"v":65353},
{"t":2636.30,"v":65331},{"t":2633.20,"v":64237},{"t":2639.45,"v":64186},{"t":2627.90,"v":64396},
{"t":2642.09,"v":61470},{"t":2642.20,"v":61030},{"t":2643.56,"v":56580},
{"t":2643.18,"v":59050},{"t":2643.20,"v":59180},{"t":2643.22,"v":58960},{"t":2643.24,"v":59120},{"t":2643.26,"v":59010},{"t":2643.28,"v":59210},{"t":2643.30,"v":58940},{"t":2643.32,"v":59090},{"t":2643.34,"v":59160},{"t":2643.36,"v":58990},
{"t":2643.38,"v":59130},{"t":2643.40,"v":59040},{"t":2643.42,"v":58920},{"t":2643.25,"v":59250},{"t":2643.31,"v":59300},{"t":2643.27,"v":59380},{"t":2643.33,"v":59520},{"t":2643.29,"v":58880},{"t":2643.35,"v":59070},{"t":2643.23,"v":59140},
{"t":2643.85,"v":54590},{"t":2643.90,"v":54460},{"t":2643.95,"v":54690},{"t":2644.00,"v":54530},{"t":2644.05,"v":54630},{"t":2644.10,"v":54420},{"t":2644.15,"v":54570},{"t":2644.20,"v":54660},{"t":2644.25,"v":54490},
{"t":2644.30,"v":54375},{"t":2644.35,"v":54170},{"t":2644.40,"v":54510},{"t":2644.45,"v":54300},{"t":2644.50,"v":54390},{"t":2644.55,"v":54215},{"t":2644.60,"v":54465},{"t":2644.65,"v":54260},{"t":2644.70,"v":54325},{"t":2644.75,"v":54430},
{"t":2644.80,"v":54180},{"t":2644.85,"v":54360},{"t":2644.90,"v":54125},{"t":2644.95,"v":54415},{"t":2645.00,"v":54290},{"t":2645.05,"v":54490},{"t":2645.10,"v":54250},{"t":2645.15,"v":54340},{"t":2645.20,"v":54195},{"t":2645.25,"v":54440},
{"t":2645.30,"v":54310},{"t":2645.35,"v":54385},{"t":2645.40,"v":54160},{"t":2645.45,"v":54470},{"t":2645.50,"v":54270},{"t":2645.55,"v":54410},{"t":2645.60,"v":54220},{"t":2645.65,"v":54320},{"t":2645.70,"v":54500},{"t":2645.75,"v":54185},
{"t":2645.80,"v":54365},{"t":2645.85,"v":54355},{"t":2645.90,"v":54200},{"t":2645.95,"v":54480},{"t":2646.00,"v":54280},{"t":2646.05,"v":54405},{"t":2646.10,"v":54145},{"t":2646.15,"v":54330},{"t":2646.20,"v":54450},{"t":2646.25,"v":54235},
{"t":2646.30,"v":54380},{"t":2646.35,"v":54175},{"t":2646.40,"v":54505},{"t":2646.45,"v":54305},{"t":2646.50,"v":54395},{"t":2646.55,"v":54210},{"t":2646.60,"v":54460},{"t":2646.65,"v":54265},{"t":2646.70,"v":54330},{"t":2646.75,"v":54425},
{"t":2646.80,"v":54185},{"t":2646.85,"v":54355},{"t":2646.90,"v":54130},{"t":2646.95,"v":54420},{"t":2647.00,"v":54285},{"t":2647.05,"v":54495},{"t":2647.10,"v":54255},{"t":2647.15,"v":54345},{"t":2647.20,"v":54200},{"t":2647.25,"v":54445},
{"t":2647.30,"v":54305},{"t":2647.35,"v":54390},{"t":2647.40,"v":54165},
{"t":2643.80,"v":54900},{"t":2644.85,"v":54860},{"t":2645.05,"v":54870},{"t":2645.70,"v":54860},{"t":2645.50,"v":54840},{"t":2647.40,"v":54890},{"t":2646.95,"v":54820},{"t":2645.95,"v":54050},{"t":2644.60,"v":54060}
]},
"mark": {"type": "point", "shape": "M-1,0H1M0,-1V1", "size": 81, "filled": false, "strokeWidth": 1, "opacity": 1},
"encoding": {
"x": {"field": "t", "type": "quantitative", "scale": {"domain": [2590, 2650], "nice": false, "zero": false},
 "axis": {"title": null, "values": [2590, 2600, 2610, 2620, 2630, 2640, 2650], "format": "d", "grid": false, "domain": false, "tickSize": -5, "tickColor": "#000000", "labelFlush": false, "labelPadding": 12, "labelDx": 2, "labelFont": "Liberation Mono", "labelFontWeight": "bold", "labelFontSize": 12, "labelColor": "#000000"}},
"y": {"field": "v", "type": "quantitative", "scale": {"domain": [52000, 66000], "nice": false, "zero": false},
 "axis": {"title": null, "values": [52000, 54000, 56000, 58000, 60000, 62000, 64000, 66000], "format": "d", "grid": false, "domain": false, "tickSize": -5, "tickColor": "#000000", "labelFlush": false, "labelPadding": 13, "labelDy": 1, "labelFont": "Liberation Mono", "labelFontWeight": "bold", "labelFontSize": 12, "labelColor": "#000000"}},
"color": {"datum": "\"lc\"", "type": "nominal", "scale": {"range": ["#ff0000"]},
 "legend": {"title": null, "orient": "none", "legendX": 473, "legendY": 5, "padding": 0, "labelFont": "Liberation Mono", "labelFontWeight": "bold", "labelFontSize": 12, "labelColor": "#000000", "symbolType": "M-1,0H1M0,-1V1", "symbolSize": 81, "symbolStrokeWidth": 1, "symbolStrokeColor": "#ff0000", "symbolOffset": 50, "labelOffset": -59}}
}
},
{
"data": {"values": [{"a": 1}]},
"mark": {"type": "point", "opacity": 0},
"encoding": {
"x": {"datum": 2590, "type": "quantitative", "scale": {"domain": [2590, 2650], "nice": false, "zero": false},
 "axis": {"orient": "top", "title": null, "values": [2590, 2600, 2610, 2620, 2630, 2640, 2650], "labels": false, "grid": false, "domain": false, "tickSize": -5, "tickColor": "#000000"}},
"y": {"datum": 52000, "type": "quantitative", "scale": {"domain": [52000, 66000], "nice": false, "zero": false},
 "axis": {"orient": "right", "title": null, "values": [52000, 54000, 56000, 58000, 60000, 62000, 64000, 66000], "labels": false, "grid": false, "domain": false, "tickSize": -5, "tickColor": "#000000"}}
}
}
],
"resolve": {"axis": {"x": "independent", "y": "independent"}}
}
